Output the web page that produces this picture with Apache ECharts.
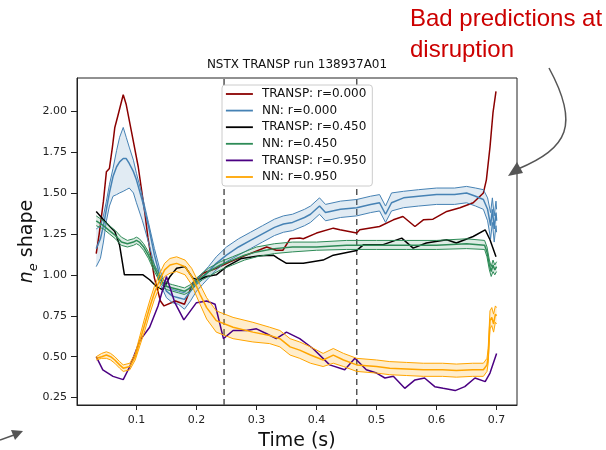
<!DOCTYPE html>
<html>
<head>
<meta charset="utf-8">
<script src="https://cdn.jsdelivr.net/npm/echarts@6/dist/echarts.min.js"></script>
<style>
  html, body { margin: 0; padding: 0; background: #fff; }
  #chart { width: 606px; height: 450px; }
</style>
</head>
<body>
<div id="chart"></div>
<script>
// Axis ticks
const xTicks = [0.1, 0.2, 0.3, 0.4, 0.5, 0.6, 0.7];
const yTicks = [0.25, 0.5, 0.75, 1.0, 1.25, 1.5, 1.75, 2.0];
const xRange = [0.001, 0.734];
const yRange = [0.205, 2.202];

// Times marked with dashed vertical lines
const eventTimes = [0.246, 0.467];

// TRANSP profiles: [time, value]
const transpR0 = [[0.033,1.13],[0.038,1.25],[0.045,1.45],[0.050,1.63],[0.055,1.65],[0.060,1.78],[0.064,1.90],[0.069,1.97],[0.078,2.10],[0.083,2.04],[0.092,1.87],[0.103,1.66],[0.114,1.38],[0.119,1.23],[0.130,0.98],[0.140,0.84],[0.146,0.81],[0.165,0.84],[0.180,0.82],[0.194,0.95],[0.211,1.01],[0.233,1.04],[0.256,1.08],[0.283,1.12],[0.317,1.17],[0.333,1.15],[0.344,1.15],[0.356,1.22],[0.372,1.225],[0.378,1.22],[0.400,1.255],[0.428,1.285],[0.439,1.275],[0.467,1.255],[0.472,1.275],[0.505,1.295],[0.528,1.336],[0.544,1.356],[0.564,1.295],[0.578,1.336],[0.594,1.34],[0.617,1.387],[0.639,1.41],[0.661,1.44],[0.678,1.50],[0.683,1.58],[0.689,1.78],[0.694,1.99],[0.699,2.12]];

const transpR45 = [[0.033,1.387],[0.050,1.316],[0.064,1.265],[0.072,1.18],[0.080,1.00],[0.100,1.00],[0.111,1.00],[0.122,0.97],[0.133,0.93],[0.144,0.908],[0.156,0.99],[0.167,1.04],[0.181,1.05],[0.194,0.98],[0.203,0.97],[0.217,0.99],[0.233,1.00],[0.250,1.05],[0.275,1.10],[0.306,1.116],[0.328,1.12],[0.336,1.10],[0.350,1.07],[0.378,1.07],[0.411,1.09],[0.428,1.12],[0.467,1.149],[0.478,1.183],[0.510,1.183],[0.542,1.224],[0.561,1.163],[0.583,1.194],[0.617,1.214],[0.633,1.194],[0.661,1.234],[0.681,1.275],[0.689,1.214],[0.699,1.11]];

const transpR95 = [[0.033,0.50],[0.044,0.42],[0.061,0.38],[0.078,0.36],[0.089,0.44],[0.106,0.60],[0.122,0.68],[0.136,0.81],[0.150,0.99],[0.164,0.83],[0.179,0.725],[0.200,0.83],[0.217,0.84],[0.231,0.82],[0.245,0.61],[0.261,0.66],[0.283,0.66],[0.300,0.67],[0.317,0.64],[0.333,0.61],[0.350,0.65],[0.372,0.61],[0.394,0.55],[0.422,0.45],[0.447,0.42],[0.464,0.49],[0.483,0.42],[0.500,0.40],[0.514,0.37],[0.528,0.38],[0.547,0.307],[0.564,0.358],[0.580,0.37],[0.597,0.317],[0.611,0.307],[0.631,0.293],[0.647,0.317],[0.664,0.37],[0.681,0.348],[0.689,0.40],[0.700,0.52]];

// NN predictions: time, mean, lower and upper bounds
const nnR0Time = [0.033,0.040,0.045,0.050,0.055,0.061,0.067,0.072,0.078,0.083,0.088,0.095,0.100,0.110,0.120,0.130,0.140,0.150,0.160,0.170,0.180,0.190,0.200,0.210,0.220,0.233,0.250,0.270,0.290,0.310,0.330,0.345,0.360,0.380,0.390,0.405,0.415,0.440,0.467,0.490,0.505,0.515,0.525,0.545,0.570,0.600,0.630,0.650,0.665,0.678,0.685,0.690,0.693,0.696,0.699,0.700];
const nnR0Mid = [1.16,1.22,1.30,1.40,1.50,1.60,1.66,1.69,1.71,1.71,1.68,1.63,1.58,1.45,1.30,1.12,0.98,0.90,0.87,0.86,0.85,0.90,0.95,0.98,1.02,1.07,1.12,1.17,1.21,1.25,1.29,1.31,1.32,1.35,1.37,1.42,1.38,1.40,1.41,1.43,1.44,1.37,1.44,1.47,1.48,1.49,1.49,1.50,1.48,1.46,1.40,1.30,1.40,1.28,1.38,1.33];
const nnR0Lo = [1.05,1.10,1.20,1.33,1.42,1.48,1.49,1.50,1.51,1.52,1.53,1.50,1.44,1.33,1.20,1.06,0.94,0.86,0.83,0.82,0.79,0.84,0.90,0.94,0.98,1.03,1.08,1.12,1.16,1.20,1.24,1.26,1.27,1.30,1.32,1.37,1.33,1.35,1.36,1.38,1.39,1.32,1.39,1.41,1.42,1.43,1.43,1.44,1.42,1.40,1.33,1.22,1.32,1.20,1.30,1.26];
const nnR0Hi = [1.28,1.30,1.36,1.45,1.55,1.65,1.76,1.84,1.90,1.84,1.78,1.70,1.62,1.48,1.32,1.16,1.02,0.93,0.91,0.90,0.89,0.93,0.97,1.01,1.05,1.11,1.17,1.22,1.26,1.30,1.34,1.36,1.37,1.40,1.42,1.47,1.43,1.45,1.46,1.48,1.49,1.42,1.50,1.51,1.52,1.53,1.53,1.54,1.53,1.52,1.47,1.38,1.47,1.36,1.45,1.40];

const nnR45Time = [0.033,0.045,0.055,0.065,0.075,0.085,0.095,0.100,0.105,0.112,0.120,0.130,0.140,0.150,0.160,0.170,0.180,0.190,0.200,0.210,0.220,0.240,0.260,0.280,0.300,0.330,0.360,0.400,0.450,0.500,0.550,0.600,0.650,0.680,0.684,0.688,0.691,0.694,0.697,0.700];
const nnR45Mid = [1.33,1.30,1.27,1.24,1.20,1.19,1.20,1.21,1.20,1.17,1.12,1.04,0.97,0.93,0.92,0.91,0.90,0.92,0.96,0.99,1.02,1.06,1.09,1.12,1.14,1.16,1.17,1.17,1.18,1.18,1.18,1.18,1.19,1.18,1.14,1.06,1.02,1.06,1.03,1.05];
const nnR45Lo = [1.30,1.28,1.25,1.22,1.18,1.17,1.18,1.19,1.18,1.15,1.10,1.02,0.95,0.91,0.90,0.89,0.88,0.90,0.94,0.97,0.99,1.03,1.06,1.09,1.11,1.13,1.14,1.15,1.155,1.155,1.155,1.155,1.16,1.155,1.11,1.03,0.99,1.02,1.00,1.02];
const nnR45Hi = [1.36,1.33,1.30,1.27,1.23,1.21,1.22,1.23,1.22,1.19,1.14,1.06,0.99,0.95,0.94,0.93,0.92,0.94,0.98,1.01,1.04,1.08,1.11,1.14,1.17,1.19,1.20,1.20,1.21,1.21,1.21,1.21,1.22,1.21,1.17,1.09,1.05,1.09,1.06,1.08];

const nnR95Time = [0.033,0.042,0.050,0.057,0.064,0.072,0.078,0.089,0.098,0.106,0.114,0.122,0.130,0.139,0.147,0.156,0.167,0.181,0.192,0.200,0.206,0.217,0.233,0.261,0.294,0.322,0.339,0.356,0.372,0.390,0.411,0.428,0.445,0.467,0.500,0.522,0.550,0.578,0.610,0.633,0.660,0.678,0.684,0.686,0.689,0.692,0.695,0.698,0.700];
const nnR95Mid = [0.49,0.50,0.51,0.50,0.48,0.45,0.43,0.44,0.50,0.60,0.70,0.80,0.89,0.97,1.03,1.06,1.07,1.05,0.99,0.93,0.88,0.80,0.72,0.68,0.65,0.63,0.61,0.56,0.54,0.51,0.48,0.51,0.48,0.45,0.44,0.43,0.425,0.42,0.42,0.415,0.42,0.42,0.45,0.50,0.72,0.74,0.70,0.76,0.75];
const nnR95Lo = [0.48,0.49,0.49,0.48,0.46,0.43,0.41,0.42,0.48,0.57,0.66,0.76,0.85,0.93,0.99,1.01,1.02,1.00,0.94,0.87,0.82,0.73,0.65,0.61,0.59,0.58,0.56,0.51,0.49,0.46,0.44,0.46,0.44,0.41,0.40,0.39,0.385,0.38,0.38,0.375,0.38,0.38,0.41,0.46,0.67,0.69,0.65,0.71,0.70];
const nnR95Hi = [0.50,0.52,0.53,0.52,0.50,0.47,0.45,0.46,0.52,0.63,0.74,0.84,0.93,1.01,1.07,1.10,1.11,1.09,1.04,0.98,0.94,0.86,0.78,0.74,0.71,0.68,0.66,0.61,0.59,0.56,0.52,0.55,0.52,0.49,0.48,0.47,0.465,0.46,0.46,0.455,0.46,0.46,0.49,0.55,0.78,0.80,0.76,0.81,0.80];

const legendNames = ['TRANSP: r=0.000', 'NN: r=0.000', 'TRANSP: r=0.450', 'NN: r=0.450', 'TRANSP: r=0.950', 'NN: r=0.950'];

const zip = (t, v) => t.map((x, i) => [x, v[i]]);

function transpLine(name, data, color) {
  return {
    type: 'line', name, data, symbol: 'none', color,
    lineStyle: { color, width: 1.5 }, z: 3, silent: true
  };
}

function nnSeries(name, t, mid, lo, hi, color, fill) {
  const edge = (suffix, vals) => ({
    type: 'line', name: name + suffix, data: zip(t, vals), symbol: 'none', color,
    lineStyle: { color, width: 1 }, z: 3, silent: true
  });
  return [
    {
      type: 'custom', name: name + ' band', silent: true, z: 2,
      data: t.map((x, i) => [x, lo[i], hi[i]]),
      encode: { x: 0, y: [1, 2] },
      renderItem(params, api) {
        if (params.dataIndex !== 0) return null;
        const pts = [];
        for (let i = 0; i < t.length; i++) pts.push(api.coord([t[i], lo[i]]));
        for (let i = t.length - 1; i >= 0; i--) pts.push(api.coord([t[i], hi[i]]));
        return { type: 'polygon', shape: { points: pts }, style: { fill, stroke: null } };
      }
    },
    edge(' lower', lo),
    edge(' upper', hi),
    {
      type: 'line', name, data: zip(t, mid), symbol: 'none', color,
      lineStyle: { color, width: 1.5 }, z: 3, silent: true
    }
  ];
}

const eventSeries = eventTimes.map((tm, i) => ({
  type: 'line', name: 'event ' + i, symbol: 'none', silent: true, z: 1,
  data: [[tm, yRange[0]], [tm, yRange[1]]],
  lineStyle: { color: '#555', width: 1.5, type: [6, 4] }
}));

const series = [
  ...eventSeries,
  transpLine(legendNames[0], transpR0, '#8B0000'),
  ...nnSeries(legendNames[1], nnR0Time, nnR0Mid, nnR0Lo, nnR0Hi, '#4682B4', 'rgba(70,130,180,0.16)'),
  transpLine(legendNames[2], transpR45, '#000000'),
  ...nnSeries(legendNames[3], nnR45Time, nnR45Mid, nnR45Lo, nnR45Hi, '#2E8B57', 'rgba(46,139,87,0.16)'),
  transpLine(legendNames[4], transpR95, '#4B0082'),
  ...nnSeries(legendNames[5], nnR95Time, nnR95Mid, nnR95Lo, nnR95Hi, '#FFA500', 'rgba(255,165,0,0.2)')
];

const font = 'DejaVu Sans';
const chart = echarts.init(document.getElementById('chart'), null, { renderer: 'canvas' });
chart.setOption({
  animation: false,
  backgroundColor: '#fff',
  title: {
    text: 'NSTX TRANSP run 138937A01',
    left: 297, top: 59, padding: 0, textAlign: 'center',
    textStyle: { fontFamily: font, fontSize: 12, fontWeight: 'normal', color: '#111' }
  },
  grid: {
    left: 77, right: 89, top: 78, bottom: 45,
    outerBoundsMode: 'none', containLabel: false,
    show: true, borderColor: '#222', borderWidth: 1, backgroundColor: 'transparent'
  },
  legend: {
    data: legendNames,
    orient: 'vertical',
    left: 222, top: 85,
    padding: [3, 6, 3, 3],
    itemWidth: 27, itemHeight: 14, itemGap: 4.6,
    backgroundColor: '#fff',
    borderColor: '#ccc', borderWidth: 1, borderRadius: 3,
    selectedMode: false, z: 10,
    itemStyle: { opacity: 0 },
    lineStyle: { width: 1.8 },
    textStyle: { fontFamily: font, fontSize: 12, color: '#111', padding: [0, 0, 0, 4] }
  },
  xAxis: {
    type: 'value', min: xRange[0], max: xRange[1],
    name: 'Time (s)', nameLocation: 'middle', nameGap: 27, nameMoveOverlap: false,
    nameTextStyle: { fontFamily: font, fontSize: 19, color: '#111' },
    axisLine: { show: true, lineStyle: { color: '#222', width: 1 } },
    axisTick: { show: true, length: 5, customValues: xTicks, lineStyle: { color: '#222' } },
    axisLabel: {
      customValues: xTicks, margin: 10, fontFamily: font, fontSize: 11, color: '#222',
      formatter: v => v.toFixed(1)
    },
    splitLine: { show: false }
  },
  yAxis: {
    type: 'value', min: yRange[0], max: yRange[1],
    name: '{i|n}{s|e}{r| shape}', nameLocation: 'middle', nameGap: 37, nameMoveOverlap: false,
    nameTextStyle: {
      fontFamily: font, fontSize: 19, color: '#111',
      rich: {
        i: { fontFamily: font, fontSize: 19, fontStyle: 'italic', color: '#111', lineHeight: 26, verticalAlign: 'middle' },
        s: { fontFamily: font, fontSize: 13, fontStyle: 'italic', color: '#111', lineHeight: 26, verticalAlign: 'bottom' },
        r: { fontFamily: font, fontSize: 19, color: '#111', lineHeight: 26, verticalAlign: 'middle' }
      }
    },
    axisLine: { show: true, lineStyle: { color: '#222', width: 1 } },
    axisTick: { show: true, length: 6, customValues: yTicks, lineStyle: { color: '#222' } },
    axisLabel: {
      customValues: yTicks, margin: 10, fontFamily: font, fontSize: 11, color: '#222',
      formatter: v => v.toFixed(2)
    },
    splitLine: { show: false }
  },
  graphic: [
    { type: 'text', left: 410, top: 7, style: { text: 'Bad predictions at', fontFamily: 'Liberation Sans', fontSize: 24, fill: '#CC0000' } },
    { type: 'text', left: 410, top: 38, style: { text: 'disruption', fontFamily: 'Liberation Sans', fontSize: 24, fill: '#CC0000' } },
    { type: 'bezierCurve', shape: { x1: 549, y1: 68, cpx1: 580, cpy1: 125, cpx2: 568, cpy2: 148, x2: 518, y2: 169 }, style: { stroke: '#555', lineWidth: 1.5, fill: null } },
    { type: 'polygon', shape: { points: [[508, 176], [517, 162], [523, 173]] }, style: { fill: '#555' } },
    { type: 'line', shape: { x1: 0, y1: 440, x2: 14, y2: 435 }, style: { stroke: '#555', lineWidth: 1.5 } },
    { type: 'polygon', shape: { points: [[23, 431], [11, 430], [15, 440]] }, style: { fill: '#555' } }
  ],
  series
});
</script>
</body>
</html>
